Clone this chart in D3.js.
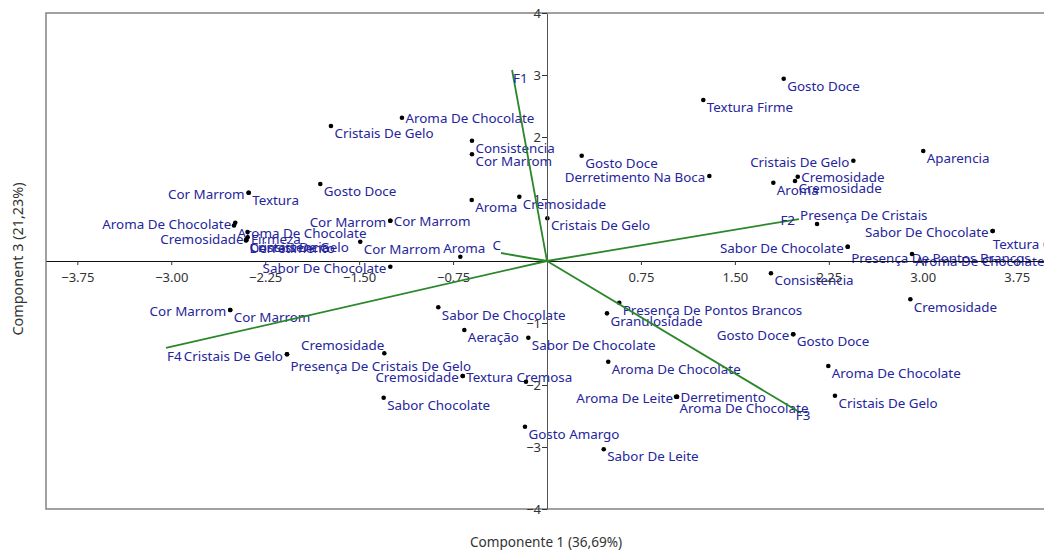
<!DOCTYPE html>
<html>
<head>
<meta charset="utf-8">
<script src="https://cdn.jsdelivr.net/npm/d3@7/dist/d3.min.js"></script>
<style>
  html, body { margin: 0; padding: 0; background: #fff; }
  svg { display: block; }
  text { font-family: "Noto Sans", "Open Sans", sans-serif; }
</style>
</head>
<body>
<svg id="chart" width="1044" height="550"></svg>
<script>
// Sample scores on components 1 and 3
const pointNames = [
  "Gosto Doce", "Textura Firme", "Aroma De Chocolate", "Cristais De Gelo", "Consistencia",
  "Aparencia", "Cor Marrom", "Gosto Doce", "Cristais De Gelo", "Derretimento Na Boca",
  "Cremosidade", "Cremosidade", "Aroma", "Gosto Doce", "Cor Marrom",
  "Textura", "Cremosidade", "Aroma", "Cristais De Gelo", "Cor Marrom",
  "Cor Marrom", "Aroma De Chocolate", "Presença De Cristais", "Sabor De Chocolate", "Textura Cremosa",
  "Aroma De Chocolate", "Cremosidade", "Firmeza", "Cristais De Gelo", "Derretimento",
  "Consistencia", "Cor Marrom", "Sabor De Chocolate", "Presença De Pontos Brancos", "Aroma De Chocolate",
  "Aroma", "Sabor De Chocolate", "Consistencia", "Cremosidade", "Presença De Pontos Brancos",
  "Sabor De Chocolate", "Cor Marrom", "Cor Marrom", "Granulosidade", "Aeração",
  "Gosto Doce", "Gosto Doce", "Sabor De Chocolate", "Cremosidade", "Cristais De Gelo",
  "Presença De Cristais De Gelo", "Aroma De Chocolate", "Aroma De Chocolate", "Cremosidade", "Textura Cremosa",
  "", "Cristais De Gelo", "Aroma De Leite", "Derretimento", "Aroma De Chocolate",
  "Sabor Chocolate", "Gosto Amargo", "Sabor De Leite"
];
const pc1 = [
  1.890, 1.248, -1.158, -1.725, -0.599,
  3.004, -0.599, 0.277, 2.446, 1.296,
  2.002, 1.980, 1.807, -1.810, -2.382,
  -2.382, -0.221, -0.601, 0.003, -1.251,
  -1.251, -2.489, 2.156, 3.558, 3.558,
  -2.499, -2.390, -2.391, -2.403, -2.403,
  -2.399, -1.491, 2.401, 2.401, 2.914,
  -0.692, -1.251, 1.788, 2.901, 0.577,
  -0.868, -2.529, -2.529, 0.479, -0.660,
  1.966, 1.966, -0.149, -1.299, -2.076,
  -2.076, 0.489, 2.246, -0.673, -0.673,
  -0.168, 2.299, 1.038, 1.038, 1.030,
  -1.304, -0.176, 0.453
];
const pc3 = [
  2.940, 2.597, 2.311, 2.177, 1.940,
  1.774, 1.721, 1.698, 1.618, 1.371,
  1.360, 1.290, 1.263, 1.242, 1.102,
  1.102, 1.037, 0.984, 0.689, 0.650,
  0.650, 0.618, 0.597, 0.484, 0.484,
  0.573, 0.382, 0.468, 0.339, 0.331,
  0.339, 0.311, 0.231, 0.231, 0.113,
  0.069, -0.092, -0.198, -0.618, -0.673,
  -0.747, -0.790, -0.790, -0.844, -1.113,
  -1.182, -1.182, -1.237, -1.489, -1.505,
  -1.505, -1.624, -1.694, -1.855, -1.855,
  -1.947, -2.173, -2.189, -2.189, -2.189,
  -2.205, -2.673, -3.037
];
// where each name sits around its dot
const labelSide = [
  "r", "r", "rc", "r", "r",
  "r", "r", "r", "l", "l",
  "rc", "r", "r", "r", "l",
  "r", "r", "r", "r", "l",
  "rc", "l", "a", "l", "b",
  "r", "l", "r", "r", "r",
  "r", "r", "l", "rl", "r",
  "a", "l", "r", "r", "r",
  "r", "l", "r", "r", "r",
  "l", "r", "r", "al", "l",
  "rl", "r", "r", "l", "rc",
  "r", "r", "l", "rc", "rl",
  "r", "r", "r"
];

// Variable loadings
const loadingNames = ["F1", "F2", "F3", "F4", "C"];
const loadingPc1 = [-0.279, 2.012, 2.028, -3.042, -0.367];
const loadingPc3 = [3.081, 0.677, -2.452, -1.403, 0.129];
const loadingSide = ["v", "l", "c", "v", "al"];

const xTicks = [-3.75, -3.00, -2.25, -1.50, -0.75, 0.75, 1.50, 2.25, 3.00, 3.75];
const yTicks = [-4, -3, -2, -1, 1, 2, 3, 4];

const xTitle = "Componente 1 (36,69%)";
const yTitle = "Component 3 (21,23%)";

const svg = d3.select("#chart");
const plot = { left: 46, right: 1048, top: 13, bottom: 509 };

const x = d3.scaleLinear().domain([-4, 4]).range([plot.left, plot.right]);
const y = d3.scaleLinear().domain([-4, 4]).range([plot.bottom, plot.top]);

const labelColor = "#25259b";
const vectorColor = "#2a872a";

const placements = {
  r:  { dx: 3.5, dy: 7.5, anchor: "start" },
  rl: { dx: 3.5, dy: 12, anchor: "start" },
  rc: { dx: 3.5, dy: 1, anchor: "start" },
  b:  { dx: 0, dy: 13, anchor: "start" },
  l:  { dx: -4, dy: 1.5, anchor: "end" },
  a:  { dx: -17, dy: -8.5, anchor: "start" },
  al: { dx: 0, dy: -8, anchor: "end" },
  c:  { dx: 2, dy: 2, anchor: "middle" },
  v:  { dx: 1, dy: 8, anchor: "start" }
};

// plot frame
svg.append("rect")
  .attr("x", plot.left).attr("y", plot.top)
  .attr("width", plot.right - plot.left).attr("height", plot.bottom - plot.top)
  .attr("fill", "none").attr("stroke", "#8a8a8a").attr("stroke-width", 1.6);

const points = pointNames.map((name, i) => ({ name, px: pc1[i], py: pc3[i], side: labelSide[i] }));

// sample labels
svg.append("g").selectAll("text")
  .data(points.filter(d => d.name !== ""))
  .join("text")
  .attr("x", d => x(d.px) + placements[d.side].dx)
  .attr("y", d => y(d.py) + placements[d.side].dy)
  .attr("dy", "0.35em")
  .attr("text-anchor", d => placements[d.side].anchor)
  .attr("font-size", 13.4)
  .attr("fill", labelColor)
  .text(d => d.name);

// sample dots
svg.append("g").selectAll("circle")
  .data(points)
  .join("circle")
  .attr("cx", d => x(d.px))
  .attr("cy", d => y(d.py))
  .attr("r", 2.3)
  .attr("fill", "#000");

// axes through the origin
const xAxis = svg.append("g")
  .attr("transform", `translate(0,${y(0)})`)
  .call(d3.axisBottom(x).tickValues(xTicks).tickFormat(d3.format(".2f"))
    .tickSize(4).tickSizeOuter(0).tickPadding(8));
const yAxis = svg.append("g")
  .attr("transform", `translate(${x(0)},0)`)
  .call(d3.axisLeft(y).tickValues(yTicks).tickFormat(d3.format("d"))
    .tickSize(5).tickSizeOuter(0).tickPadding(1));

[xAxis, yAxis].forEach(g => {
  g.select(".domain").attr("stroke", "#111");
  g.selectAll(".tick line").attr("stroke", "#333");
  g.selectAll(".tick text")
    .attr("font-family", "\"Noto Sans\", sans-serif")
    .attr("font-size", 13)
    .attr("fill", "#333");
});
yAxis.select(".domain").attr("stroke", "#555");

// loading vectors
const loadings = loadingNames.map((name, i) => ({ name, px: loadingPc1[i], py: loadingPc3[i], side: loadingSide[i] }));

svg.append("g").selectAll("line")
  .data(loadings)
  .join("line")
  .attr("x1", x(0)).attr("y1", y(0))
  .attr("x2", d => x(d.px)).attr("y2", d => y(d.py))
  .attr("stroke", vectorColor)
  .attr("stroke-width", 1.8);

svg.append("g").selectAll("text")
  .data(loadings)
  .join("text")
  .attr("x", d => x(d.px) + placements[d.side].dx)
  .attr("y", d => y(d.py) + placements[d.side].dy)
  .attr("dy", "0.35em")
  .attr("text-anchor", d => placements[d.side].anchor)
  .attr("font-size", 13.4)
  .attr("fill", labelColor)
  .text(d => d.name);

// axis titles
svg.append("text")
  .attr("x", 546).attr("y", 542)
  .attr("dy", "0.35em")
  .attr("text-anchor", "middle")
  .attr("font-size", 13.6)
  .attr("fill", "#333")
  .text(xTitle);

svg.append("text")
  .attr("transform", "translate(18,259) rotate(-90)")
  .attr("dy", "0.35em")
  .attr("text-anchor", "middle")
  .attr("font-size", 14.4)
  .attr("fill", "#333")
  .text(yTitle);
</script>
</body>
</html>
